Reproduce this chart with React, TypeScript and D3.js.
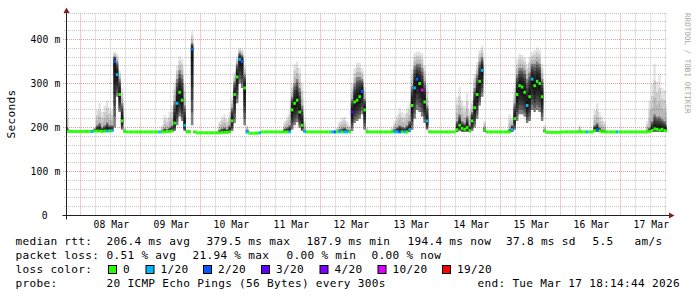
import React from "react";
import * as d3 from "d3";

const W = 697;
const H = 297;

const START = new Date(2026, 2, 7, 18, 14, 44);
const END = new Date(2026, 2, 17, 18, 14, 44);
const FIRST_SAMPLE = new Date(2026, 2, 7, 18, 0, 0);

// hourly median rtt (ms), Mar 7 18:00 .. Mar 17 18:00
const medianMs = [
  191, 191, 191, 191, 191, 191,
  191, 191, 191, 191, 191, 192, 192, 192, 191, 192, 192, 192, 193, 350, 320, 275, 215, 191, 190, 190, 190, 190, 190, 190,
  190, 190, 190, 190, 190, 190, 190, 190, 190, 190, 191, 191, 192, 210, 255, 280, 262, 205, 190, 190, 378, 190, 188, 188,
  188, 188, 188, 188, 188, 188, 188, 188, 189, 189, 189, 190, 215, 275, 315, 355, 350, 290, 190, 187, 187, 187, 187, 188,
  190, 190, 190, 190, 190, 190, 190, 190, 190, 190, 190, 190, 240, 255, 262, 235, 205, 191, 190, 190, 190, 190, 190, 190,
  190, 190, 190, 190, 190, 190, 190, 190, 190, 190, 190, 190, 235, 258, 262, 270, 282, 240, 190, 190, 190, 190, 190, 190,
  190, 190, 190, 190, 190, 190, 190, 190, 190, 190, 190, 195, 250, 290, 310, 300, 285, 258, 215, 190, 190, 190, 190, 190,
  190, 190, 190, 190, 190, 190, 195, 205, 198, 196, 200, 193, 215, 245, 275, 305, 330, 195, 190, 190, 190, 190, 190, 190,
  190, 190, 190, 190, 195, 220, 275, 295, 292, 280, 250, 270, 310, 295, 305, 300, 270, 192, 189, 189, 189, 189, 189, 189,
  190, 190, 190, 190, 190, 190, 190, 190, 190, 190, 190, 190, 190, 193, 195, 192, 190, 190, 190, 190, 190, 190, 190, 190,
  190, 190, 190, 190, 190, 190, 190, 190, 190, 190, 190, 191, 193, 197, 196, 194, 196, 193, 192,
];

// lowest ping (ms)
const smokeLo = [
  191, 191, 191, 191, 191, 191,
  191, 191, 191, 191, 191, 191, 191, 191, 190, 191, 191, 191, 192, 200, 270, 235, 195, 190, 190, 190, 190, 190, 190, 190,
  190, 190, 190, 190, 190, 190, 190, 190, 190, 190, 190, 190, 190, 192, 205, 225, 215, 192, 190, 190, 205, 188, 188, 188,
  188, 188, 188, 188, 188, 188, 188, 188, 188, 188, 188, 189, 192, 210, 255, 300, 290, 205, 187, 187, 187, 187, 187, 187,
  190, 190, 190, 190, 190, 190, 190, 190, 190, 190, 190, 190, 195, 205, 212, 200, 192, 190, 190, 190, 190, 190, 190, 190,
  190, 190, 190, 190, 190, 190, 190, 190, 190, 190, 190, 190, 192, 210, 215, 220, 230, 195, 190, 190, 190, 190, 190, 190,
  190, 190, 190, 190, 190, 190, 190, 190, 190, 190, 190, 190, 195, 220, 240, 235, 225, 210, 195, 190, 190, 190, 190, 190,
  190, 190, 190, 190, 190, 190, 190, 192, 190, 190, 190, 189, 192, 200, 220, 250, 270, 190, 190, 190, 190, 190, 190, 190,
  190, 190, 190, 190, 190, 195, 215, 230, 230, 225, 210, 215, 240, 235, 240, 235, 215, 189, 189, 189, 189, 189, 189, 189,
  190, 190, 190, 190, 190, 190, 190, 190, 190, 190, 190, 190, 190, 190, 190, 190, 190, 190, 190, 190, 190, 190, 190, 190,
  190, 190, 190, 190, 190, 190, 190, 190, 190, 190, 190, 190, 190, 190, 190, 190, 190, 190, 190,
];

// upper quartile ping (ms): top of the dense smoke
const smokeQ3 = [
  200, 191, 191, 191, 191, 191,
  191, 191, 191, 191, 192, 197, 205, 210, 200, 205, 212, 205, 205, 362, 350, 310, 255, 193, 190, 190, 190, 190, 190, 190,
  190, 190, 190, 190, 190, 190, 190, 190, 193, 198, 196, 200, 205, 260, 310, 330, 320, 250, 192, 192, 392, 190, 188, 188,
  188, 188, 188, 188, 188, 188, 188, 195, 198, 200, 196, 205, 245, 305, 345, 370, 365, 320, 195, 187, 187, 187, 187, 188,
  190, 190, 190, 190, 190, 190, 190, 190, 190, 198, 200, 205, 270, 300, 310, 290, 250, 195, 190, 190, 190, 190, 190, 190,
  190, 190, 190, 190, 190, 190, 192, 196, 198, 200, 196, 194, 265, 300, 315, 315, 310, 265, 192, 190, 190, 190, 190, 190,
  190, 190, 190, 190, 192, 196, 200, 205, 202, 200, 205, 215, 295, 340, 345, 345, 335, 305, 250, 191, 190, 190, 190, 190,
  190, 190, 190, 190, 190, 190, 215, 230, 215, 210, 225, 205, 235, 290, 320, 350, 360, 200, 190, 190, 190, 190, 190, 190,
  190, 190, 190, 196, 205, 255, 320, 335, 335, 330, 310, 325, 345, 345, 350, 345, 310, 195, 189, 189, 189, 189, 189, 189,
  190, 190, 190, 190, 190, 190, 190, 192, 190, 190, 190, 190, 190, 205, 210, 200, 195, 193, 190, 190, 190, 190, 190, 190,
  190, 190, 190, 190, 190, 190, 190, 190, 190, 190, 193, 200, 215, 230, 225, 225, 220, 215, 205,
];

// highest ping (ms)
const smokeHi = [
  262, 191, 191, 191, 191, 191,
  191, 191, 191, 191, 194, 200, 240, 255, 235, 250, 262, 245, 240, 372, 368, 330, 290, 200, 190, 190, 190, 190, 190, 190,
  190, 190, 190, 190, 190, 190, 190, 190, 205, 228, 222, 235, 250, 300, 340, 362, 355, 300, 196, 196, 418, 195, 188, 188,
  188, 188, 188, 188, 188, 188, 188, 215, 225, 230, 220, 235, 270, 325, 362, 382, 378, 340, 205, 187, 187, 187, 187, 188,
  190, 190, 190, 190, 190, 190, 190, 190, 190, 215, 225, 240, 300, 345, 350, 335, 300, 215, 190, 190, 190, 190, 190, 190,
  190, 190, 190, 190, 190, 190, 200, 215, 222, 225, 215, 205, 300, 335, 348, 348, 335, 292, 200, 190, 190, 190, 190, 190,
  190, 190, 190, 190, 200, 215, 228, 244, 235, 232, 245, 255, 332, 370, 373, 372, 368, 340, 300, 195, 190, 190, 190, 190,
  190, 190, 190, 190, 190, 190, 270, 292, 262, 250, 278, 240, 262, 322, 348, 376, 386, 215, 190, 190, 190, 190, 190, 190,
  190, 190, 190, 230, 225, 290, 355, 368, 365, 360, 345, 360, 372, 376, 382, 378, 345, 205, 189, 189, 189, 189, 189, 189,
  190, 190, 190, 190, 190, 190, 190, 205, 190, 190, 190, 190, 190, 240, 255, 235, 225, 215, 190, 190, 190, 190, 190, 190,
  190, 190, 190, 190, 190, 190, 190, 190, 190, 190, 215, 260, 300, 345, 305, 322, 290, 285, 250,
];

// lost pings out of 20
const lossCount = [
  0, 0, 0, 0, 0, 0,
  0, 0, 0, 0, 1, 0, 0, 0, 0, 0, 1, 0, 1, 2, 1, 0, 0, 0, 0, 0, 0, 0, 0, 0,
  0, 0, 0, 0, 0, 0, 0, 1, 0, 0, 0, 0, 0, 0, 1, 0, 0, 1, 0, 0, 2, 0, 0, 0,
  0, 0, 0, 0, 0, 0, 0, 0, 0, 0, 0, 0, 0, 0, 0, 1, 2, 0, 1, 0, 0, 0, 0, 1,
  0, 0, 0, 0, 0, 0, 0, 0, 0, 0, 0, 1, 0, 0, 0, 0, 0, 1, 0, 0, 0, 0, 0, 0,
  0, 0, 0, 0, 1, 2, 0, 1, 0, 1, 1, 0, 3, 0, 0, 0, 2, 0, 0, 0, 0, 0, 0, 0,
  0, 0, 0, 0, 0, 1, 1, 2, 0, 1, 0, 1, 0, 1, 2, 0, 10, 0, 1, 0, 0, 0, 0, 0,
  0, 0, 0, 0, 0, 0, 0, 0, 0, 0, 0, 0, 0, 0, 0, 0, 1, 0, 0, 0, 0, 0, 0, 0,
  0, 0, 0, 0, 1, 0, 0, 0, 0, 0, 1, 0, 1, 0, 0, 0, 0, 0, 0, 0, 0, 0, 0, 0,
  0, 0, 0, 0, 0, 0, 0, 0, 0, 0, 1, 0, 0, 0, 2, 0, 0, 0, 0, 0, 0, 0, 1, 0,
  0, 0, 0, 0, 0, 0, 0, 0, 0, 0, 0, 0, 0, 0, 0, 0, 0, 0, 0,
];

const LOSS_STEPS = [0, 1, 2, 3, 4, 10, 19];
const LOSS_LABELS = ["0", "1/20", "2/20", "3/20", "4/20", "10/20", "19/20"];
const LOSS_COLORS = ["#26ff00", "#00b8ff", "#0059ff", "#5e00ff", "#7e00ff", "#dd00ff", "#ff0000"];
const LOSS_BOX_X = [108.5, 146, 203.5, 261.5, 320, 378, 442.5];

const Y_MAJOR = [0, 100, 200, 300, 400];
const Y_MAJOR_LABELS = ["0", "100 m", "200 m", "300 m", "400 m"];

const RTT_ROW = [
  ["median rtt:", 15.5],
  ["206.4 ms avg", 106.5],
  ["379.5 ms max", 206.5],
  ["187.9 ms min", 306.5],
  ["194.4 ms now", 407.5],
  ["37.8 ms sd", 506],
  ["5.5", 592.5],
  ["am/s", 634.5],
];
const LOSS_ROW = [
  ["packet loss:", 15.5],
  ["0.51 % avg", 106.5],
  ["21.94 % max", 192.5],
  ["0.00 % min", 286.5],
  ["0.00 % now", 371.5],
];
const PROBE_ROW = [
  ["probe:", 15.5],
  ["20 ICMP Echo Pings (56 Bytes) every 300s", 106.5],
  ["end: Tue Mar 17 18:14:44 2026", 477.5],
];

const MONO = "'DejaVu Sans Mono', monospace";

function lossColor(n: number) {
  let c = LOSS_COLORS[0];
  LOSS_STEPS.forEach((s, j) => {
    if (n >= s) c = LOSS_COLORS[j];
  });
  return c;
}

type Row = { t: Date; med: number; lo: number; q3: number; hi: number; loss: number };

export default function App() {
  const x = d3.scaleTime().domain([START, END]).range([66.5, 666.5]);
  const y = d3.scaleLinear().domain([0, 460]).range([215.5, 13.1]);
  const snap = (v: number) => Math.floor(v) + 0.5;

  const n = medianMs.length;
  const times = d3.range(n + 1).map((i) => d3.timeHour.offset(FIRST_SAMPLE, i));
  const rows: Row[] = times.map((t, i) => {
    const j = Math.min(i, n - 1);
    return { t, med: medianMs[j], lo: smokeLo[j], q3: smokeQ3[j], hi: smokeHi[j], loss: lossCount[j] };
  });

  const band = (y0: (d: Row) => number, y1: (d: Row) => number) =>
    d3
      .area<Row>()
      .curve(d3.curveStepAfter)
      .x((d) => x(d.t))
      .y0((d) => y(y0(d)))
      .y1((d) => y(y1(d)))(rows) || "";

  // light fringe up to the highest ping
  const NF = 3;
  const fringe = d3.range(1, NF + 1).map((j) => band((d) => d.lo, (d) => d.q3 + ((d.hi - d.q3) * j) / NF));
  // dense body around the median
  const NB = 6;
  const body = d3
    .range(1, NB + 1)
    .map((k) => band((d) => d.med + ((d.lo - d.med) * k) / NB, (d) => d.med + ((d.q3 - d.med) * k) / NB));

  const minorY = d3.range(20, 461, 20).filter((v) => v % 100 !== 0);
  const majorY = Y_MAJOR.filter((v) => v > 0);
  const minorX = d3.timeHour
    .every(6)!
    .range(START, END)
    .filter((d) => d.getHours() !== 0);
  const majorX = d3.timeDay.range(START, END);
  const fmt = d3.timeFormat("%d %b");

  const plotTop = 13;
  const plotBottom = 215.5;

  return (
    <svg
      width={W}
      height={H}
      viewBox={`0 0 ${W} ${H}`}
      style={{ position: "absolute", left: 0, top: 0, background: "#fff" }}
    >
      <defs>
        <clipPath id="plot">
          <rect x={67} y={plotTop - 1} width={600} height={plotBottom - plotTop + 1} />
        </clipPath>
      </defs>
      <rect x={0} y={0} width={W} height={H} fill="#fff" />

      {/* grid */}
      <g strokeWidth={1} strokeDasharray="1,1" fill="none">
        {minorY.map((v) => (
          <line key={"my" + v} x1={64} x2={666.5} y1={snap(y(v))} y2={snap(y(v))} stroke="#c4c4c4" />
        ))}
        {minorX.map((d) => (
          <line key={"mx" + d.getTime()} x1={snap(x(d))} x2={snap(x(d))} y1={plotBottom} y2={plotTop} stroke="#c4c4c4" />
        ))}
        {majorY.map((v) => (
          <line key={"My" + v} x1={63} x2={666.5} y1={snap(y(v))} y2={snap(y(v))} stroke="#e89898" />
        ))}
        {majorX.map((d) => (
          <line key={"Mx" + d.getTime()} x1={snap(x(d))} x2={snap(x(d))} y1={plotBottom} y2={plotTop} stroke="#e89898" />
        ))}
      </g>

      {/* smoke */}
      <g clipPath="url(#plot)">
        {fringe.map((p, k) => (
          <path key={"f" + k} d={p} fill="#000" fillOpacity={0.1} />
        ))}
        {body.map((p, k) => (
          <path key={"b" + k} d={p} fill="#000" fillOpacity={0.3} />
        ))}
        {rows.slice(0, n).map((d, i) => (
          <rect
            key={"m" + i}
            x={x(d.t)}
            width={x(times[i + 1]) - x(d.t)}
            y={y(d.med) - 1.5}
            height={3}
            fill={lossColor(d.loss)}
          />
        ))}
      </g>

      {/* axes */}
      <line x1={62.5} x2={669.5} y1={215.5} y2={215.5} stroke="#1f1f1f" />
      <line x1={66.5} x2={66.5} y1={219.5} y2={12} stroke="#1f1f1f" />
      <polygon points="669,212.5 669,218.5 674.5,215.5" fill="#7f1f1f" />
      <polygon points="63.5,13 69.5,13 66.5,7.5" fill="#7f1f1f" />

      {/* axis labels */}
      <g fontFamily={MONO} fontSize={9.7} letterSpacing={0.15} fill="#000">
        {Y_MAJOR.map((v, i) => (
          <text key={"yl" + v} x={v === 0 ? 47.8 : 60.5} y={y(v) + 3} textAnchor="end">
            {Y_MAJOR_LABELS[i]}
          </text>
        ))}
        {majorX.map((d) => (
          <text key={"xl" + d.getTime()} x={x(d3.timeHour.offset(d, 12)) + 0.5} y={228} textAnchor="middle">
            {fmt(d)}
          </text>
        ))}
      </g>

      {/* unit label */}
      <text
        transform="translate(15,114) rotate(-90)"
        textAnchor="middle"
        fontFamily={MONO}
        fontSize={11.1}
        letterSpacing={0.3}
        fill="#000"
      >
        Seconds
      </text>

      {/* watermark */}
      <text transform="translate(685,13) rotate(90)" fontFamily={MONO} fontSize={7.6} fill="#a8a8a8">
        RRDTOOL / TOBI OETIKER
      </text>

      {/* legend */}
      <g fontFamily={MONO} fontSize={11.1} letterSpacing={0.3} fill="#000" style={{ whiteSpace: "pre" }}>
        {RTT_ROW.map(([s, px]) => (
          <text key={"r1" + s} x={px as number} y={245}>
            {s}
          </text>
        ))}
        {LOSS_ROW.map(([s, px]) => (
          <text key={"r2" + s} x={px as number} y={259}>
            {s}
          </text>
        ))}
        <text x={15.5} y={273}>loss color:</text>
        {LOSS_LABELS.map((s, i) => (
          <g key={"lc" + s}>
            <rect x={LOSS_BOX_X[i]} y={265.5} width={8} height={8} fill={LOSS_COLORS[i]} stroke="#000" strokeWidth={1} />
            <text x={LOSS_BOX_X[i] + 14.5} y={273}>
              {s}
            </text>
          </g>
        ))}
        {PROBE_ROW.map(([s, px]) => (
          <text key={"r4" + s} x={px as number} y={287}>
            {s}
          </text>
        ))}
      </g>
    </svg>
  );
}
